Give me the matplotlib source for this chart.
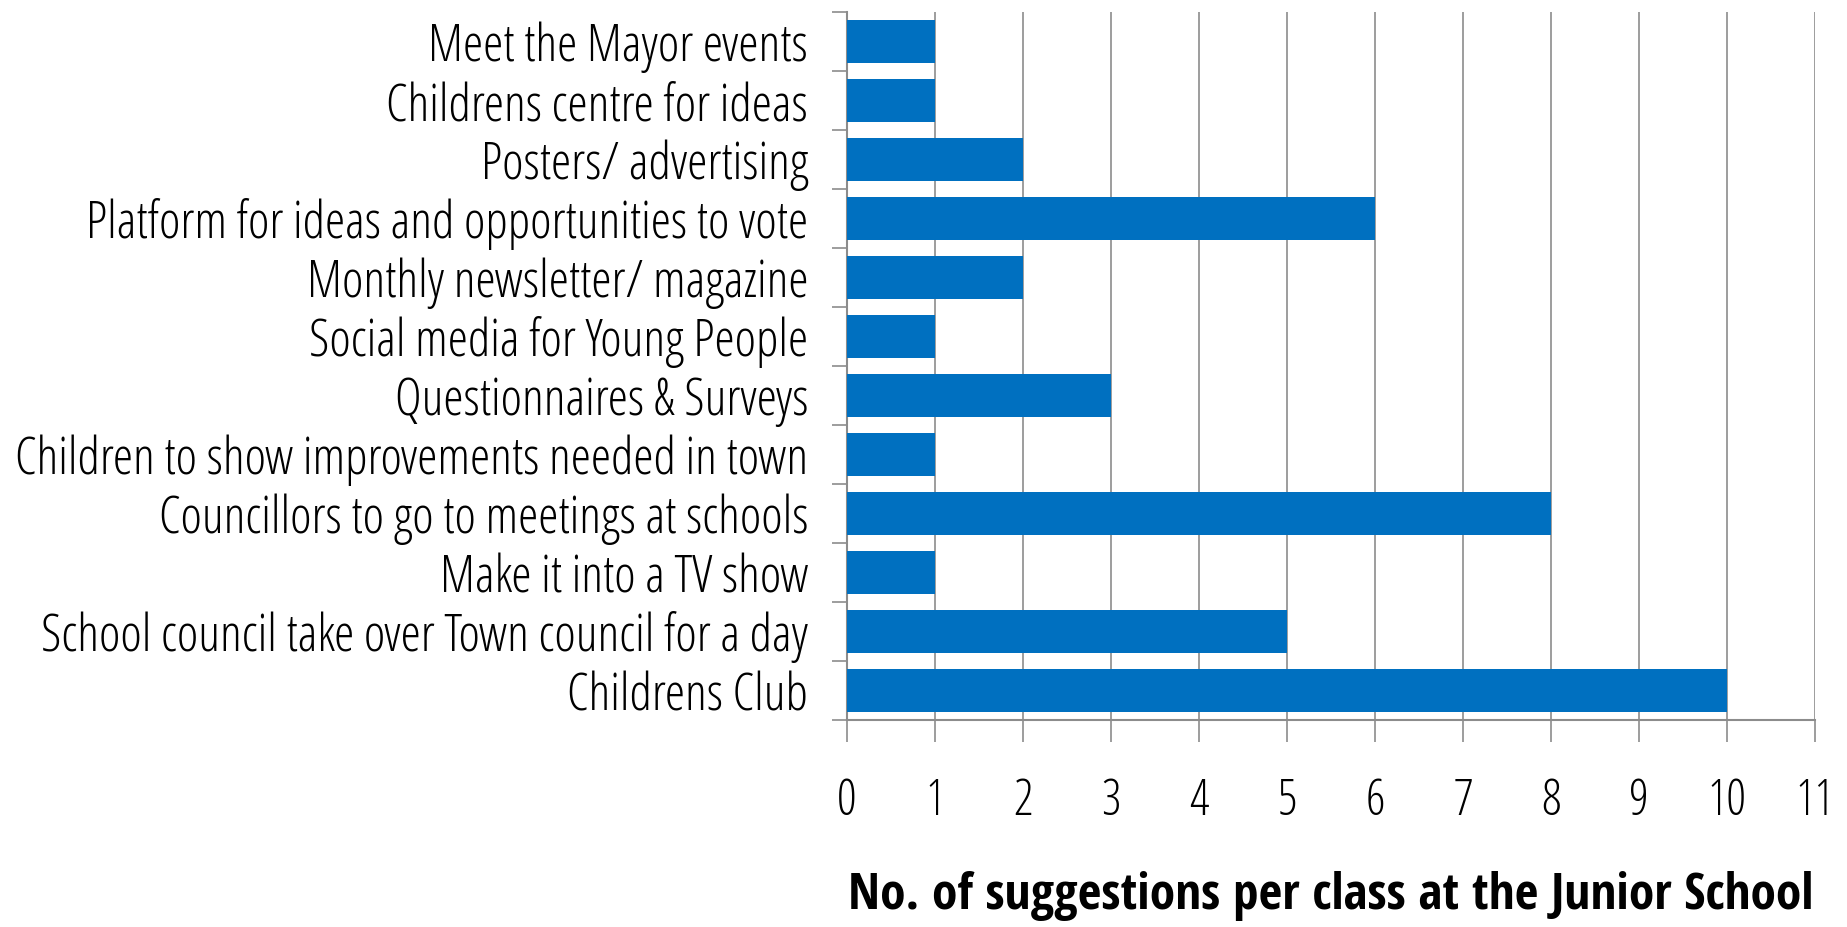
import matplotlib
matplotlib.use("Agg")
import matplotlib.pyplot as plt
import numpy as np

categories = ["Meet the Mayor events", "Childrens centre for ideas", "Posters/ advertising",
              "Platform for ideas and opportunities to vote", "Monthly newsletter/ magazine",
              "Social media for Young People", "Questionnaires & Surveys",
              "Children to show improvements needed in town",
              "Councillors to go to meetings at schools", "Make it into a TV show",
              "School council take over Town council for a day", "Childrens Club"]
values = [1, 1, 2, 6, 2, 1, 3, 1, 8, 1, 5, 10]
xticks = list(range(0, 12))
xlabel = "No. of suggestions per class at the Junior School"

plt.rcParams['font.family'] = ['Open Sans', 'DejaVu Sans']
plt.rcParams['font.stretch'] = 'condensed'
plt.rcParams['font.weight'] = 300

fig = plt.figure(figsize=(18.47, 9.27), dpi=100)
ax = fig.add_axes([0.4586, 0.2233, 0.5241, 0.7638])

n = len(categories)
ypos = np.arange(n)[::-1]
ax.barh(ypos, values, height=0.72, color="#0070C0", zorder=3)
ax.set_ylim(-0.5, n - 0.5)
ax.set_xlim(0, 11)

grid_c = "#8c8c8c"
ax.set_xticks(xticks)
ax.set_xticklabels([str(t) for t in xticks], fontsize=35)
ax.tick_params(axis='x', length=16, width=1.2, color=grid_c, pad=25, direction='out')
for t in xticks[1:]:
    ax.axvline(t, color=grid_c, lw=1.2, zorder=1)

ax.set_yticks(ypos)
ax.set_yticklabels(categories, fontsize=37)
ax.tick_params(axis='y', which='major', length=0, pad=28)
ax.set_yticks(np.arange(-0.5, n, 1), minor=True)
ax.tick_params(axis='y', which='minor', length=11, width=1.2, color=grid_c)

for s in ['top', 'right']:
    ax.spines[s].set_visible(False)
for s in ['left', 'bottom']:
    ax.spines[s].set_color(grid_c)
    ax.spines[s].set_linewidth(1.5)

ax.set_xlabel(xlabel, fontsize=37, fontfamily=['Open Sans Condensed', 'DejaVu Sans'],
              fontweight=700, labelpad=32)

fig.savefig("out.png", dpi=100)
